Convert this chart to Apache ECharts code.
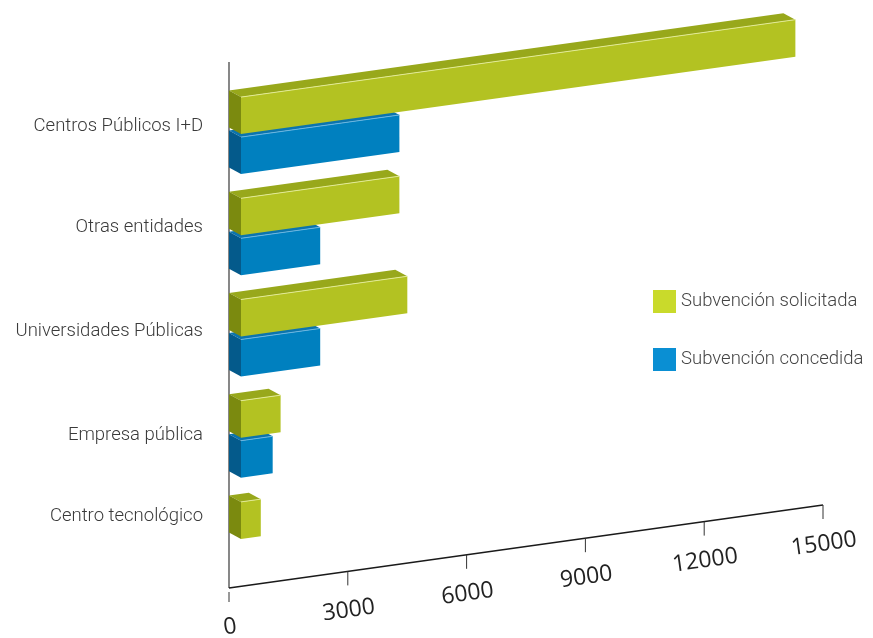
<!DOCTYPE html>
<html>
<head>
<meta charset="utf-8">
<script src="https://cdn.jsdelivr.net/npm/echarts@6/dist/echarts.min.js"></script>
<style>
  html, body { margin: 0; padding: 0; background: #fff; }
  #chart { width: 873px; height: 638px; }
</style>
</head>
<body>
<div id="chart"></div>
<script>
// Applicants by type of entity
const categories = ['Centros Públicos I+D', 'Otras entidades', 'Universidades Públicas', 'Empresa pública', 'Centro tecnológico'];
const solicitada = [14000, 4000, 4200, 1000, 500];
const concedida = [4000, 2000, 2000, 800, 0];
const xTicks = [0, 3000, 6000, 9000, 12000, 15000];
const xTickLabels = ['0', '3000', '6000', '9000', '12000', '15000'];

// Oblique projection settings
const SLOPE = 83 / 594;       // rise of the value axis per pixel of run
const DEPTH_X = 12, DEPTH_Y = 6.5; // front face offset from the back plane
const BAR_H = 37;
const TOP_OFFSET = -42;       // first bar top relative to the band centre
const PAIR_STEP = 40;         // distance between the two bars of a group

const FONT = 'Roboto, "Open Sans", sans-serif';
const LABEL_SIZE = 18.5;

const palettes = [
  { front: '#b3c222', top: '#98a81b', side: '#7b8a0f', edge: '#e2ea95' },
  { front: '#0080bf', top: '#0b74ae', side: '#045a8b', edge: '#6cb6e0' }
];

function barRenderer(slot) {
  return function (params, api) {
    const v = api.value(0);
    const cat = api.value(1);
    if (!v) return null;
    const base = api.coord([0, cat]);
    const end = api.coord([v, cat]);
    const L = end[0] - base[0];
    const x0 = base[0];
    const yt = base[1] + TOP_OFFSET + slot * PAIR_STEP;
    const rise = L * SLOPE;
    const dx = DEPTH_X, dy = DEPTH_Y, h = BAR_H;
    const c = palettes[slot];
    return {
      type: 'group',
      children: [
        { type: 'polygon', shape: { points: [[x0, yt], [x0 + L, yt - rise], [x0 + dx + L, yt + dy - rise], [x0 + dx, yt + dy]] },
          style: { fill: c.top } },
        { type: 'polygon', shape: { points: [[x0, yt], [x0 + dx, yt + dy], [x0 + dx, yt + dy + h], [x0, yt + h]] },
          style: { fill: c.side } },
        { type: 'polygon', shape: { points: [[x0 + dx, yt + dy], [x0 + dx + L, yt + dy - rise], [x0 + dx + L, yt + dy + h - rise], [x0 + dx, yt + dy + h]] },
          style: { fill: c.front } },
        { type: 'line', shape: { x1: x0 + dx, y1: yt + dy, x2: x0 + dx + L, y2: yt + dy - rise },
          style: { stroke: c.edge, lineWidth: 1 } }
      ]
    };
  };
}

function axisRenderer(params, api) {
  const t = api.value(0);
  const last = categories.length - 1;
  const origin = api.coord([0, last]);
  const p = api.coord([t, last]);
  const halfBand = api.size([0, 1])[1] / 2;
  const bottom = origin[1] + halfBand;
  const ax = p[0];
  const ay = bottom - (p[0] - origin[0]) * SLOPE;
  const children = [];
  if (params.dataIndex === 0) {
    const endX = api.coord([xTicks[xTicks.length - 1], last])[0];
    const first = api.coord([0, 0]);
    children.push({ type: 'line', shape: { x1: origin[0], y1: first[1] - halfBand - 20, x2: origin[0], y2: bottom },
      style: { stroke: '#555', lineWidth: 1.4 } });
    children.push({ type: 'line', shape: { x1: origin[0], y1: bottom, x2: endX, y2: bottom - (endX - origin[0]) * SLOPE },
      style: { stroke: '#1a1a1a', lineWidth: 1.5 } });
    children.push({ type: 'line', shape: { x1: ax, y1: ay + 4, x2: ax, y2: ay + 14 },
      style: { stroke: '#333', lineWidth: 1 } });
  } else {
    children.push({ type: 'line', shape: { x1: ax, y1: ay, x2: ax, y2: ay + 14 },
      style: { stroke: '#333', lineWidth: 1 } });
  }
  children.push({
    type: 'text', x: ax + 1, y: ay + 39, rotation: Math.atan(SLOPE),
    style: { text: xTickLabels[params.dataIndex], x: 0, y: 0, align: 'center', verticalAlign: 'middle',
      font: '23px "Open Sans", sans-serif', fill: '#222' }
  });
  return { type: 'group', children: children };
}

function labelStyle(padding) {
  return { fontSize: LABEL_SIZE, fontFamily: FONT, fontWeight: 300, color: '#3a3a3a', padding: padding };
}

const chart = echarts.init(document.getElementById('chart'));
chart.setOption({
  animation: false,
  backgroundColor: '#fff',
  grid: { left: 229, right: 50, top: 82, bottom: 50 },
  xAxis: { type: 'value', min: 0, max: 15000, interval: 3000, show: false },
  yAxis: {
    type: 'category', inverse: true, data: categories,
    axisLine: { show: false }, axisTick: { show: false }, splitLine: { show: false },
    axisLabel: {
      margin: 26, fontSize: LABEL_SIZE, color: '#3a3a3a', fontFamily: FONT,
      formatter: function (value, index) { return '{l' + index + '|' + value + '}'; },
      rich: {
        l0: labelStyle([0, 0, 12, 0]),
        l1: labelStyle([0, 0, 12, 0]),
        l2: labelStyle([0, 0, 7, 0]),
        l3: labelStyle([0, 0, 1, 0]),
        l4: labelStyle([0, 0, 42, 0])
      }
    }
  },
  legend: {
    orient: 'vertical', left: 653, top: 290, padding: 0, itemWidth: 23, itemHeight: 23, itemGap: 35,
    icon: 'rect', textStyle: { fontSize: LABEL_SIZE, fontWeight: 300, color: '#444', fontFamily: FONT },
    data: [
      { name: 'Subvención solicitada', itemStyle: { color: '#c9da2b' } },
      { name: 'Subvención concedida', itemStyle: { color: '#0a8fd3' } }
    ]
  },
  series: [
    {
      name: 'Subvención solicitada', type: 'custom', z: 3,
      itemStyle: { color: '#c9da2b' },
      renderItem: barRenderer(0),
      encode: { x: 0, y: 1 },
      data: solicitada.map((v, i) => [v, i])
    },
    {
      name: 'Subvención concedida', type: 'custom', z: 2,
      itemStyle: { color: '#0a8fd3' },
      renderItem: barRenderer(1),
      encode: { x: 0, y: 1 },
      data: concedida.map((v, i) => [v, i])
    },
    {
      name: 'axis', type: 'custom', z: 1, silent: true,
      renderItem: axisRenderer,
      encode: { x: 0, y: 1 },
      data: xTicks.map(t => [t, categories.length - 1])
    }
  ]
});
</script>
</body>
</html>
